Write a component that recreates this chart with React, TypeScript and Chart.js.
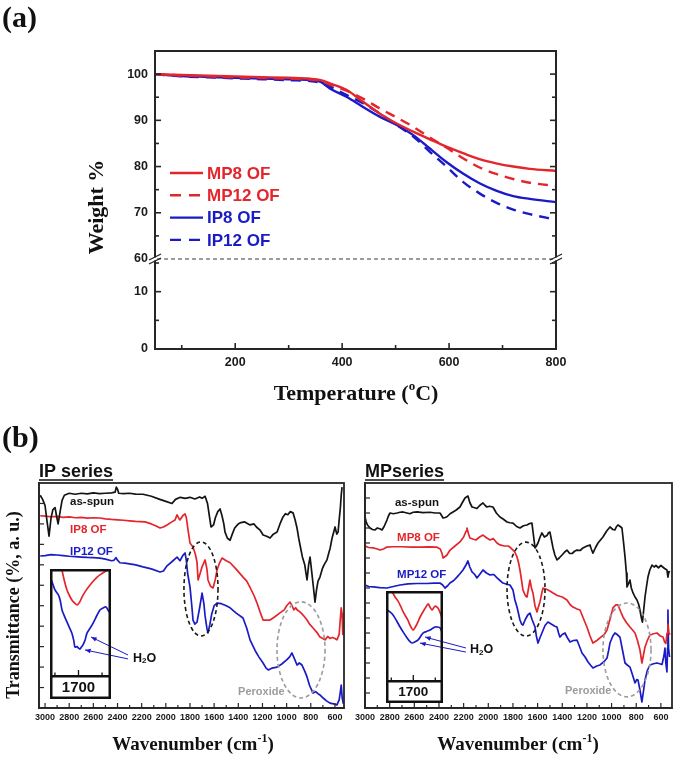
import React, { useEffect, useRef } from "react";
import { Chart, registerables } from "chart.js";

Chart.register(...registerables);

const RED = "#e3262c";
const BLUE = "#1b1bc6";
const BLACK = "#141414";
const GRAY = "#9c9c9c";
const AXIS = "#262626";
const SANS = "'Liberation Sans', Arial, Helvetica, sans-serif";
const SERIF = "'Liberation Serif', 'Times New Roman', Times, serif";

// ---------- (a) TGA ----------
const tgaTemp = [50, 100, 150, 200, 250, 300, 340, 360, 377, 408, 439, 470, 502, 533, 564, 595, 626, 657, 688, 720, 751, 800];
const tgaMP8 = [100, 99.8, 99.65, 99.5, 99.35, 99.2, 99.0, 98.7, 98.0, 96.6, 94.0, 91.5, 89.3, 87.55, 85.9, 84.3, 82.9, 81.6, 80.7, 80.0, 79.5, 79.05];
const tgaMP12 = [100, 99.7, 99.5, 99.3, 99.15, 99.0, 98.8, 98.5, 97.7, 96.4, 94.7, 92.6, 90.6, 88.6, 86.3, 84.1, 81.8, 79.8, 78.4, 77.3, 76.5, 75.8];
const tgaIP8 = [100, 99.6, 99.4, 99.2, 99.05, 98.9, 98.7, 98.3, 96.9, 95.1, 92.9, 90.8, 89.0, 86.8, 83.9, 81.0, 78.5, 76.4, 74.8, 73.6, 73.0, 72.3];
const tgaIP12 = [100, 99.5, 99.3, 99.1, 98.9, 98.7, 98.5, 98.1, 97.3, 95.5, 93.7, 91.5, 89.0, 86.5, 83.2, 80.0, 76.7, 74.2, 72.2, 70.7, 69.7, 68.5];
const tgaXTicks = [200, 400, 600, 800];
const tgaXMinor = [100, 300, 500, 700];
const tgaYTopTicks = [60, 70, 80, 90, 100];
const tgaYTopMinor = [65, 75, 85, 95];
const tgaYBotTicks = [0, 10];
const tgaYBotMinor = [5, 15];

// ---------- (b) FTIR, IP series ----------
type Pair = [number, number];
const ipAsSpun: Pair[] = [[3040,10.4],[3020,10.2],[3000,9.9],[2985,9.2],[2967,8.4],[2950,9.3],[2935,9.7],[2917,9.8],[2905,9.4],[2892,9.0],[2875,9.6],[2859,10.15],[2840,10.4],[2800,10.5],[2750,10.45],[2700,10.5],[2650,10.47],[2600,10.52],[2550,10.48],[2500,10.5],[2450,10.52],[2420,10.55],[2410,10.8],[2400,10.7],[2390,10.5],[2350,10.48],[2300,10.5],[2250,10.46],[2189,10.45],[2120,10.35],[2050,10.2],[2000,10.1],[1949,10.0],[1920,10.2],[1880,10.3],[1840,10.25],[1800,10.3],[1760,10.22],[1720,10.32],[1700,10.25],[1675,10.35],[1655,10.0],[1640,9.4],[1626,8.85],[1605,8.95],[1590,9.3],[1570,9.6],[1551,9.73],[1535,9.4],[1520,9.0],[1510,8.6],[1490,8.3],[1468,8.2],[1450,8.5],[1430,8.8],[1400,9.0],[1386,9.05],[1350,9.1],[1303,8.95],[1270,9.0],[1250,8.85],[1220,8.7],[1195,8.46],[1165,8.4],[1137,8.31],[1110,8.5],[1079,8.6],[1055,9.0],[1030,9.34],[1010,9.5],[990,9.45],[970,9.6],[947,9.54],[930,9.2],[914,8.8],[900,8.3],[889,7.97],[870,7.4],[850,7.0],[840,6.6],[831,6.26],[818,7.0],[806,7.38],[795,6.8],[780,6.0],[765,5.18],[752,5.8],[740,6.2],[724,6.4],[705,6.8],[690,7.0],[666,7.24],[650,7.6],[640,7.8],[624,8.3],[610,8.6],[599,8.85],[585,8.5],[574,8.6],[565,9.2],[555,9.8],[548,10.4],[541,10.8]];
const ipIP8: Pair[] = [[3040,9.4],[3000,9.38],[2950,9.35],[2900,9.37],[2850,9.32],[2800,9.34],[2750,9.3],[2700,9.32],[2650,9.28],[2600,9.3],[2545,9.29],[2500,9.25],[2450,9.22],[2400,9.2],[2350,9.18],[2300,9.15],[2250,9.12],[2172,9.1],[2120,9.0],[2080,8.9],[2048,8.8],[2020,8.85],[1990,8.95],[1950,9.1],[1924,9.19],[1907,9.44],[1890,9.25],[1882,9.2],[1860,9.4],[1841,9.49],[1830,9.3],[1816,8.7],[1800,8.07],[1775,7.87],[1755,7.5],[1742,7.14],[1733,6.26],[1715,6.6],[1700,6.9],[1675,7.24],[1660,6.8],[1651,6.26],[1630,5.95],[1609,5.87],[1590,6.3],[1576,6.75],[1555,7.1],[1535,7.33],[1500,7.2],[1468,7.1],[1420,6.8],[1361,6.4],[1330,6.2],[1303,5.9],[1270,5.5],[1245,5.13],[1220,4.7],[1195,4.3],[1165,4.3],[1137,4.3],[1100,4.45],[1055,4.65],[1020,4.8],[1000,5.0],[972,5.18],[955,5.0],[940,4.8],[925,4.9],[914,4.8],[890,4.7],[873,4.6],[850,4.45],[831,4.3],[810,4.1],[781,3.91],[750,3.7],[724,3.47],[700,3.4],[682,3.33],[660,3.5],[641,3.4],[620,3.45],[600,3.4],[583,3.33],[565,3.6],[555,4.4],[548,4.9],[541,4.6],[535,3.6]];
const ipIP12: Pair[] = [[3040,7.43],[3000,7.45],[2950,7.5],[2900,7.48],[2850,7.45],[2800,7.42],[2750,7.4],[2700,7.38],[2650,7.36],[2600,7.35],[2545,7.33],[2500,7.28],[2450,7.2],[2430,7.22],[2412,7.35],[2404,7.25],[2380,7.1],[2340,7.08],[2300,7.05],[2250,7.0],[2189,6.9],[2120,6.8],[2048,6.65],[2020,6.7],[1990,6.95],[1950,7.15],[1907,7.38],[1890,7.25],[1882,7.2],[1860,7.45],[1841,7.58],[1830,7.2],[1820,6.6],[1800,5.92],[1785,5.0],[1775,4.3],[1760,4.1],[1742,4.2],[1720,4.9],[1700,5.62],[1685,5.1],[1675,4.5],[1660,3.9],[1651,3.67],[1635,4.1],[1620,4.6],[1600,5.0],[1576,5.13],[1540,5.1],[1500,5.0],[1468,4.9],[1420,4.65],[1361,4.4],[1330,3.9],[1303,3.33],[1260,2.8],[1230,2.5],[1195,2.2],[1170,1.95],[1150,1.86],[1120,1.95],[1079,2.0],[1040,2.15],[1000,2.35],[975,2.5],[956,2.69],[935,2.4],[914,2.1],[895,2.2],[873,2.1],[850,1.8],[831,1.52],[810,1.1],[781,0.73],[760,0.8],[740,0.7],[724,0.64],[700,0.5],[670,0.35],[641,0.24],[610,0.2],[583,0.15],[565,0.4],[555,0.8],[548,1.12],[540,0.5],[530,0.2]];

// ---------- (b) FTIR, MP series ----------
const mpAsSpun: Pair[] = [[3000,12.73],[2990,12.4],[2980,12.2],[2959,12.0],[2940,11.9],[2919,11.87],[2900,12.0],[2880,11.95],[2862,11.87],[2845,12.1],[2822,12.53],[2810,12.8],[2797,13.0],[2770,12.95],[2740,13.0],[2715,13.05],[2692,13.07],[2660,13.0],[2635,12.95],[2610,13.05],[2578,13.07],[2530,13.02],[2473,13.05],[2430,13.0],[2392,13.0],[2380,12.85],[2367,12.67],[2350,12.7],[2335,12.75],[2310,12.95],[2286,13.07],[2260,13.2],[2230,13.4],[2210,13.7],[2189,14.0],[2165,14.13],[2150,13.7],[2132,13.4],[2110,13.35],[2092,13.3],[2070,13.5],[2043,13.67],[2025,13.5],[2011,13.4],[1990,13.45],[1962,13.4],[1935,13.0],[1905,12.73],[1880,12.6],[1848,12.4],[1825,12.35],[1800,12.33],[1770,12.1],[1743,12.0],[1715,12.15],[1686,12.2],[1665,12.3],[1646,12.33],[1635,11.6],[1621,10.67],[1610,10.8],[1597,11.0],[1580,11.4],[1565,11.67],[1545,11.4],[1524,11.5],[1510,11.7],[1500,11.73],[1490,11.3],[1475,10.67],[1460,10.2],[1443,9.87],[1425,10.0],[1402,10.2],[1380,10.4],[1362,10.53],[1340,10.3],[1320,10.3],[1300,10.45],[1281,10.53],[1255,10.5],[1232,10.67],[1200,10.8],[1175,10.87],[1165,10.6],[1151,10.33],[1130,10.7],[1110,11.0],[1090,11.2],[1070,11.4],[1040,11.8],[1013,12.07],[990,11.9],[973,11.87],[960,12.1],[948,12.2],[930,12.1],[916,12.0],[905,11.2],[891,10.07],[880,9.0],[875,8.07],[862,8.3],[851,8.53],[840,8.0],[826,7.67],[810,7.4],[794,7.2],[780,6.9],[770,6.53],[758,6.0],[750,5.73],[740,6.5],[729,7.4],[715,8.2],[705,8.73],[690,9.2],[672,9.53],[655,9.4],[640,9.5],[620,9.35],[600,9.5],[585,9.4],[570,9.3],[551,9.2],[543,8.73],[535,9.1],[526,9.07]];
const mpMP8: Pair[] = [[3000,10.8],[2970,10.7],[2935,10.67],[2900,10.6],[2878,10.53],[2850,10.6],[2822,10.73],[2780,10.75],[2700,10.75],[2620,10.72],[2550,10.73],[2480,10.74],[2420,10.73],[2390,10.6],[2375,10.3],[2367,10.0],[2350,10.1],[2335,10.2],[2310,10.53],[2270,10.8],[2230,11.07],[2200,11.4],[2180,11.8],[2173,12.0],[2160,11.6],[2149,11.33],[2120,11.25],[2100,11.2],[2070,11.4],[2043,11.53],[2015,11.35],[1986,11.2],[1960,11.3],[1930,11.0],[1905,10.87],[1870,10.8],[1840,10.8],[1824,10.73],[1800,10.53],[1785,10.4],[1767,10.07],[1755,9.7],[1743,9.2],[1730,8.5],[1719,7.87],[1700,7.5],[1686,7.4],[1662,8.53],[1650,8.0],[1638,7.67],[1621,6.8],[1605,6.4],[1595,6.7],[1581,7.07],[1565,7.7],[1556,8.0],[1540,7.95],[1524,7.9],[1500,7.8],[1475,7.67],[1440,7.5],[1400,7.4],[1362,7.2],[1337,6.9],[1313,6.73],[1280,6.6],[1256,6.53],[1230,6.0],[1200,5.4],[1175,4.8],[1151,4.33],[1120,4.5],[1094,4.67],[1060,4.9],[1037,5.2],[1010,6.0],[989,6.67],[965,6.87],[948,6.87],[930,6.5],[908,6.07],[880,5.7],[851,5.4],[830,5.2],[810,5.0],[790,4.5],[770,3.87],[754,3.0],[740,3.6],[729,4.07],[710,4.5],[689,4.87],[660,4.95],[632,5.0],[605,4.8],[583,4.73],[570,4.4],[560,4.3],[550,5.0],[543,5.6],[535,5.0],[525,4.9]];
const mpMP12: Pair[] = [[3000,8.2],[2970,8.1],[2935,8.07],[2880,8.02],[2822,8.0],[2770,8.1],[2716,8.2],[2650,8.28],[2580,8.3],[2500,8.3],[2440,8.32],[2392,8.33],[2370,8.2],[2351,8.0],[2330,8.15],[2311,8.33],[2280,8.5],[2254,8.73],[2230,8.95],[2205,9.2],[2180,9.55],[2165,9.8],[2150,9.4],[2132,9.07],[2110,8.9],[2092,8.67],[2070,8.9],[2043,9.2],[2015,9.0],[1986,8.87],[1955,8.9],[1929,8.67],[1905,8.5],[1881,8.33],[1850,8.25],[1824,8.2],[1800,7.87],[1784,7.2],[1767,6.73],[1755,6.3],[1743,5.87],[1730,5.6],[1719,5.53],[1700,5.9],[1680,6.2],[1662,6.33],[1645,5.9],[1621,5.4],[1610,4.8],[1597,4.33],[1580,4.7],[1565,5.0],[1540,5.5],[1516,5.73],[1490,5.6],[1460,5.45],[1443,5.4],[1430,5.0],[1419,4.73],[1400,4.9],[1378,5.0],[1360,4.7],[1337,4.4],[1310,4.5],[1281,4.53],[1260,4.1],[1240,3.67],[1215,3.4],[1191,3.07],[1170,2.85],[1151,2.67],[1120,2.8],[1094,2.87],[1060,3.1],[1037,3.33],[1025,3.8],[1013,4.33],[990,4.8],[973,5.0],[955,4.9],[932,4.73],[910,3.8],[891,3.0],[870,2.85],[851,2.73],[830,2.2],[810,1.67],[795,1.9],[786,1.87],[770,1.2],[754,0.4],[740,1.2],[729,1.87],[710,2.5],[689,2.87],[660,2.95],[632,3.0],[610,2.95],[591,2.9],[575,3.5],[567,4.0],[560,3.0],[551,2.4],[546,4.0],[543,6.53],[538,4.0],[530,3.4]];
const ftirXTicks = [3000, 2800, 2600, 2400, 2200, 2000, 1800, 1600, 1400, 1200, 1000, 800, 600];

// ---------- insets (around 1700 cm-1) ----------
const ipInsetIP8: Pair[] = [[1780,11.0],[1770,9.9],[1760,8.9],[1749,8.04],[1738,7.5],[1728,7.1],[1716,6.8],[1706,6.64],[1695,6.9],[1685,7.38],[1668,8.0],[1651,8.5],[1636,8.9],[1621,9.25],[1606,9.5],[1592,9.7],[1578,9.85],[1566,10.0],[1560,10.1]];
const ipInsetIP12: Pair[] = [[1822,9.3],[1812,8.79],[1800,8.04],[1786,7.6],[1778,7.1],[1770,6.17],[1760,5.6],[1749,5.05],[1738,4.5],[1728,4.0],[1720,3.3],[1715,2.7],[1706,2.75],[1700,2.6],[1694,2.52],[1688,2.7],[1681,2.9],[1672,3.36],[1664,4.0],[1650,4.5],[1638,4.95],[1621,5.7],[1609,6.17],[1596,6.36],[1583,6.45],[1575,6.17],[1566,5.9],[1560,5.6]];
const mpInsetMP8: Pair[] = [[1808,11.0],[1797,10.0],[1783,9.33],[1770,8.9],[1760,8.44],[1748,7.8],[1738,7.33],[1725,6.8],[1715,6.22],[1701,5.67],[1688,6.11],[1678,6.6],[1669,7.11],[1651,7.89],[1633,8.56],[1624,8.2],[1615,7.89],[1608,8.1],[1601,8.33],[1588,8.11],[1578,7.6],[1569,7.0],[1563,6.8]];
const mpInsetMP12: Pair[] = [[1826,7.95],[1819,7.89],[1806,7.67],[1792,7.33],[1776,6.7],[1760,6.0],[1745,5.4],[1728,4.78],[1716,4.4],[1706,4.22],[1692,4.35],[1678,4.56],[1667,4.95],[1656,5.33],[1640,5.5],[1624,5.67],[1612,5.85],[1601,6.0],[1590,6.0],[1578,5.89],[1569,5.44],[1563,5.3]];
const insetTicks = [1800, 1700, 1600];

// ---------- helpers ----------
const toPts = (arr: Pair[]) => arr.map(([x, y]) => ({ x, y }));
const zipPts = (xs: number[], ys: number[]) => xs.map((x, i) => ({ x, y: ys[i] }));

function line(ctx: CanvasRenderingContext2D, x1: number, y1: number, x2: number, y2: number) {
  ctx.beginPath();
  ctx.moveTo(x1, y1);
  ctx.lineTo(x2, y2);
  ctx.stroke();
}

function arrow(ctx: CanvasRenderingContext2D, x1: number, y1: number, x2: number, y2: number) {
  line(ctx, x1, y1, x2, y2);
  const a = Math.atan2(y2 - y1, x2 - x1);
  const s = 6;
  ctx.beginPath();
  ctx.moveTo(x2, y2);
  ctx.lineTo(x2 - s * Math.cos(a - 0.38), y2 - s * Math.sin(a - 0.38));
  ctx.lineTo(x2 - s * Math.cos(a + 0.38), y2 - s * Math.sin(a + 0.38));
  ctx.closePath();
  ctx.fill();
}

function richText(ctx: CanvasRenderingContext2D, parts: [string, string, number][], x: number, y: number, align: string) {
  let total = 0;
  parts.forEach((p) => {
    ctx.font = p[1];
    total += ctx.measureText(p[0]).width;
  });
  let cx = align === "center" ? x - total / 2 : align === "right" ? x - total : x;
  ctx.textAlign = "left";
  parts.forEach((p) => {
    ctx.font = p[1];
    ctx.fillText(p[0], cx, y + p[2]);
    cx += ctx.measureText(p[0]).width;
  });
}

const decor = (fn: (chart: any, ctx: CanvasRenderingContext2D) => void) => ({
  id: "decor",
  afterDraw(chart: any) {
    const ctx = chart.ctx as CanvasRenderingContext2D;
    ctx.save();
    fn(chart, ctx);
    ctx.restore();
  },
});

const noPlugins = { legend: { display: false }, tooltip: { enabled: false } };

// ---------- TGA chart ----------
function tgaConfig(): any {
  const series = [
    { label: "MP8 OF", data: tgaMP8, color: RED, dash: [] as number[] },
    { label: "MP12 OF", data: tgaMP12, color: RED, dash: [10, 7] },
    { label: "IP8 OF", data: tgaIP8, color: BLUE, dash: [] as number[] },
    { label: "IP12 OF", data: tgaIP12, color: BLUE, dash: [10, 7] },
  ];
  const tickFont = { family: SANS, size: 12.5, weight: "bold" };
  const yCommon = {
    type: "linear",
    axis: "y",
    position: "left",
    stack: "tga",
    grid: { display: false, drawTicks: false },
    border: { display: true, color: AXIS, width: 2 },
    ticks: { font: tickFont, color: "#1a1a1a", padding: 7, autoSkip: false, callback: (v: any) => String(v) },
    afterFit: (s: any) => {
      s.width = 155;
    },
  };
  return {
    type: "line",
    data: {
      datasets: series.map((s) => ({
        label: s.label,
        data: zipPts(tgaTemp, s.data),
        borderColor: s.color,
        backgroundColor: s.color,
        borderWidth: 2.4,
        borderDash: s.dash,
        pointRadius: 0,
        cubicInterpolationMode: "monotone",
        fill: false,
        yAxisID: "yTop",
      })),
    },
    options: {
      animation: false,
      responsive: false,
      devicePixelRatio: 1,
      layout: { padding: { top: 51, right: 119, left: 0, bottom: 0 } },
      plugins: noPlugins,
      scales: {
        x: {
          type: "linear",
          min: 50,
          max: 800,
          afterBuildTicks: (s: any) => {
            s.ticks = tgaXTicks.map((v) => ({ value: v }));
          },
          ticks: { font: tickFont, color: "#1a1a1a", padding: 6, maxRotation: 0, autoSkip: false, callback: (v: any) => String(v) },
          grid: { display: false, drawTicks: false },
          border: { display: true, color: AXIS, width: 2 },
          afterFit: (s: any) => {
            s.height = 71;
          },
        },
        yBot: {
          ...yCommon,
          stackWeight: 90,
          min: 0,
          max: 15.7,
          afterBuildTicks: (s: any) => {
            s.ticks = tgaYBotTicks.map((v) => ({ value: v }));
          },
        },
        yTop: {
          ...yCommon,
          stackWeight: 208,
          min: 60,
          max: 105,
          afterBuildTicks: (s: any) => {
            s.ticks = tgaYTopTicks.map((v) => ({ value: v }));
          },
        },
      },
    },
    plugins: [
      decor((chart, ctx) => {
        const ca = chart.chartArea;
        const sx = chart.scales.x;
        const yT = chart.scales.yTop;
        const yB = chart.scales.yBot;
        ctx.strokeStyle = AXIS;
        ctx.lineWidth = 2;
        ctx.strokeRect(ca.left, ca.top, ca.right - ca.left, ca.bottom - ca.top);
        ctx.lineWidth = 1.6;
        const xt = (vals: number[], L: number) =>
          vals.forEach((v) => {
            const px = sx.getPixelForValue(v);
            line(ctx, px, ca.bottom, px, ca.bottom - L);
          });
        xt(tgaXTicks.filter((v) => v < 800), 6);
        xt(tgaXMinor, 4);
        const yt = (sc: any, vals: number[], L: number) =>
          vals.forEach((v) => {
            const py = sc.getPixelForValue(v);
            line(ctx, ca.left, py, ca.left + L, py);
            line(ctx, ca.right, py, ca.right - L, py);
          });
        yt(yT, tgaYTopTicks.filter((v) => v > 60), 6);
        yt(yT, tgaYTopMinor, 4);
        yt(yB, tgaYBotTicks.filter((v) => v > 0), 6);
        yt(yB, tgaYBotMinor, 4);
        // break line
        const yb = yT.bottom;
        ctx.setLineDash([4, 3]);
        ctx.lineWidth = 1.2;
        ctx.strokeStyle = "#3a3a3a";
        line(ctx, ca.left + 2, yb, ca.right - 2, yb);
        ctx.setLineDash([]);
        [ca.left, ca.right].forEach((ax) => {
          ctx.fillStyle = "#ffffff";
          ctx.fillRect(ax - 2, yb - 1.5, 4, 3);
          ctx.strokeStyle = AXIS;
          ctx.lineWidth = 1.3;
          line(ctx, ax - 6, yb + 1, ax + 6, yb - 5);
          line(ctx, ax - 6, yb + 5, ax + 6, yb - 1);
        });
        // legend
        chart.data.datasets.forEach((ds: any, i: number) => {
          const y = ca.top + 122 + i * 22.3;
          ctx.strokeStyle = ds.borderColor;
          ctx.lineWidth = 2.4;
          ctx.setLineDash(ds.borderDash && ds.borderDash.length ? [11, 8] : []);
          line(ctx, ca.left + 15, y, ca.left + 48, y);
          ctx.setLineDash([]);
          ctx.fillStyle = ds.borderColor;
          ctx.font = `bold 17px ${SANS}`;
          ctx.textAlign = "left";
          ctx.textBaseline = "middle";
          ctx.fillText(ds.label, ca.left + 52, y + 1);
        });
        // titles
        ctx.fillStyle = "#111111";
        ctx.textBaseline = "alphabetic";
        ctx.font = `bold 30px ${SERIF}`;
        ctx.textAlign = "left";
        ctx.fillText("(a)", 2, 27);
        ctx.save();
        ctx.translate(103, 207);
        ctx.rotate(-Math.PI / 2);
        ctx.font = `bold 22px ${SERIF}`;
        ctx.textAlign = "center";
        ctx.fillText("Weight %", 0, 0);
        ctx.restore();
        richText(
          ctx,
          [
            ["Temperature (", `bold 22px ${SERIF}`, 0],
            ["o", `bold 13px ${SERIF}`, -10],
            ["C)", `bold 22px ${SERIF}`, 0],
          ],
          356,
          400,
          "center"
        );
      }),
    ],
  };
}

// ---------- FTIR chart ----------
function ftirConfig(p: any): any {
  const tickFont = { family: SANS, size: 9, weight: "bold" };
  return {
    type: "line",
    data: {
      datasets: p.series.map((s: any) => ({
        label: s.label,
        data: toPts(s.data),
        borderColor: s.color,
        borderWidth: 1.7,
        pointRadius: 0,
        tension: 0,
        fill: false,
        borderJoinStyle: "round",
      })),
    },
    options: {
      animation: false,
      responsive: false,
      devicePixelRatio: 1,
      layout: { padding: { top: 63, right: p.padRight, left: 0, bottom: 0 } },
      plugins: noPlugins,
      scales: {
        x: {
          type: "linear",
          reverse: true,
          min: p.xMin,
          max: p.xMax,
          afterBuildTicks: (s: any) => {
            s.ticks = ftirXTicks.map((v) => ({ value: v }));
          },
          ticks: { font: tickFont, color: "#1a1a1a", padding: 4, maxRotation: 0, autoSkip: false, callback: (v: any) => String(v) },
          grid: { display: false, drawTicks: false },
          border: { display: true, color: AXIS, width: 1.8 },
          afterFit: (s: any) => {
            s.height = 50;
          },
        },
        y: {
          type: "linear",
          min: 0,
          max: p.yMax,
          ticks: { display: false },
          grid: { display: false, drawTicks: false },
          border: { display: true, color: AXIS, width: 1.8 },
          afterFit: (s: any) => {
            s.width = p.leftW;
          },
        },
      },
    },
    plugins: [
      decor((chart, ctx) => {
        const ca = chart.chartArea;
        const sx = chart.scales.x;
        const sy = chart.scales.y;
        const X = (w: number) => sx.getPixelForValue(w);
        const Y = (u: number) => sy.getPixelForValue(u);
        ctx.strokeStyle = AXIS;
        ctx.lineWidth = 1.8;
        ctx.strokeRect(ca.left, ca.top, ca.right - ca.left, ca.bottom - ca.top);
        ctx.lineWidth = 1.2;
        for (let u = 1; u < p.yMax; u++) line(ctx, ca.left, Y(u), ca.left + 5, Y(u));
        for (let w = 600; w <= 3000; w += 100) {
          const L = w % 200 === 0 ? 5 : 3;
          line(ctx, X(w), ca.bottom, X(w), ca.bottom - L);
        }
        // ellipses
        ctx.setLineDash([4, 3]);
        ctx.lineWidth = 1.6;
        p.ellipses.forEach((e: any) => {
          ctx.strokeStyle = e.color;
          ctx.beginPath();
          ctx.ellipse(X(e.w), Y(e.u), Math.abs(X(e.w + e.rw) - X(e.w)), Math.abs(Y(e.u + e.ru) - Y(e.u)), 0, 0, Math.PI * 2);
          ctx.stroke();
        });
        ctx.setLineDash([]);
        // series labels
        ctx.textBaseline = "middle";
        ctx.textAlign = "left";
        p.labels.forEach((l: any) => {
          ctx.fillStyle = l.color;
          ctx.font = `bold ${l.size}px ${SANS}`;
          ctx.fillText(l.text, X(l.w), Y(l.u));
        });
        // H2O arrows
        ctx.strokeStyle = BLUE;
        ctx.fillStyle = BLUE;
        ctx.lineWidth = 1;
        p.arrows.forEach((a: number[]) => arrow(ctx, X(a[0]), Y(a[1]), X(a[2]), Y(a[3])));
        ctx.fillStyle = "#111111";
        richText(
          ctx,
          [
            ["H", `bold 12.5px ${SANS}`, 0],
            ["2", `bold 8px ${SANS}`, 3],
            ["O", `bold 12.5px ${SANS}`, 0],
          ],
          X(p.h2o[0]),
          Y(p.h2o[1]),
          "left"
        );
        // title
        ctx.textBaseline = "alphabetic";
        ctx.fillStyle = "#111111";
        ctx.font = `bold 18px ${SANS}`;
        ctx.textAlign = "left";
        ctx.fillText(p.title, ca.left, 57);
        const tw = ctx.measureText(p.title).width;
        ctx.strokeStyle = "#111111";
        ctx.lineWidth = 1.5;
        line(ctx, ca.left, 60, ca.left + tw, 60);
        // x title
        richText(
          ctx,
          [
            ["Wavenumber (cm", `bold 19px ${SERIF}`, 0],
            ["-1", `bold 12px ${SERIF}`, -8],
            [")", `bold 19px ${SERIF}`, 0],
          ],
          p.xTitleX,
          330,
          "center"
        );
        if (p.extra) p.extra(chart, ctx);
      }),
    ],
  };
}

function insetConfig(p: any): any {
  return {
    type: "line",
    data: {
      datasets: p.series.map((s: any) => ({
        data: toPts(s.data),
        borderColor: s.color,
        borderWidth: 1.7,
        pointRadius: 0,
        tension: 0.25,
        fill: false,
      })),
    },
    options: {
      animation: false,
      responsive: false,
      devicePixelRatio: 1,
      layout: { padding: 0 },
      plugins: noPlugins,
      scales: {
        x: {
          type: "linear",
          reverse: true,
          min: p.xMin,
          max: p.xMax,
          afterBuildTicks: (s: any) => {
            s.ticks = insetTicks.map((v) => ({ value: v }));
          },
          ticks: {
            font: { family: SANS, size: p.fontSize, weight: "bold" },
            color: "#111111",
            padding: p.labelPad,
            maxRotation: 0,
            autoSkip: false,
            callback: (v: any) => (v === 1700 ? "1700" : ""),
          },
          grid: { display: false, drawTicks: false },
          border: { display: true, color: "#111111", width: 2.5 },
          afterFit: (s: any) => {
            s.height = p.axisH;
          },
        },
        y: { display: false, min: 0, max: 10 },
      },
    },
    plugins: [
      decor((chart, ctx) => {
        const ca = chart.chartArea;
        const sx = chart.scales.x;
        ctx.strokeStyle = "#111111";
        ctx.lineWidth = 2.5;
        ctx.strokeRect(1.25, 1.25, chart.width - 2.5, chart.height - 2.5);
        ctx.lineWidth = 1.3;
        insetTicks.forEach((v) => {
          const px = sx.getPixelForValue(v);
          line(ctx, px, ca.bottom, px, ca.bottom - (v === 1700 ? 6 : 3.5));
        });
      }),
    ],
  };
}

function ChartBox(props: { left: number; top: number; width: number; height: number; make: () => any }) {
  const ref = useRef<HTMLCanvasElement>(null);
  useEffect(() => {
    const chart = new Chart(ref.current as HTMLCanvasElement, props.make());
    return () => chart.destroy();
  }, []);
  return (
    <canvas
      ref={ref}
      width={props.width}
      height={props.height}
      style={{ position: "absolute", left: props.left, top: props.top, width: props.width, height: props.height }}
    />
  );
}

const ipConfig = () =>
  ftirConfig({
    series: [
      { label: "as-spun", data: ipAsSpun, color: BLACK },
      { label: "IP8 OF", data: ipIP8, color: RED },
      { label: "IP12 OF", data: ipIP12, color: BLUE },
    ],
    xMin: 525,
    xMax: 3050,
    yMax: 11,
    leftW: 39,
    padRight: 6,
    title: "IP series",
    xTitleX: 193,
    labels: [
      { text: "as-spun", w: 2793, u: 10.07, color: BLACK, size: 11.5 },
      { text: "IP8 OF", w: 2793, u: 8.7, color: RED, size: 11.5 },
      { text: "IP12 OF", w: 2793, u: 7.63, color: BLUE, size: 11.5 },
      { text: "Peroxide", w: 1402, u: 0.78, color: GRAY, size: 11 },
    ],
    ellipses: [
      { w: 1709, u: 5.82, rw: 141, ru: 2.3, color: "#1a1a1a" },
      { w: 881, u: 2.84, rw: 199, ru: 2.35, color: GRAY },
    ],
    arrows: [
      [2313, 2.59, 2619, 3.47],
      [2313, 2.4, 2669, 2.84],
    ],
    h2o: [2272, 2.44],
    extra: (chart: any, ctx: CanvasRenderingContext2D) => {
      ctx.fillStyle = "#111111";
      ctx.font = `bold 30px ${SERIF}`;
      ctx.textAlign = "left";
      ctx.textBaseline = "alphabetic";
      ctx.fillText("(b)", 2, 27);
      ctx.save();
      ctx.translate(19, 185);
      ctx.rotate(-Math.PI / 2);
      ctx.font = `bold 18px ${SERIF}`;
      ctx.textAlign = "center";
      ctx.fillText("Transmittance (%, a. u.)", 0, 0);
      ctx.restore();
    },
  });

const mpConfig = () =>
  ftirConfig({
    series: [
      { label: "as-spun", data: mpAsSpun, color: BLACK },
      { label: "MP8 OF", data: mpMP8, color: RED },
      { label: "MP12 OF", data: mpMP12, color: BLUE },
    ],
    xMin: 510,
    xMax: 3000,
    yMax: 15,
    leftW: 15,
    padRight: 3,
    title: "MPseries",
    xTitleX: 168,
    labels: [
      { text: "as-spun", w: 2757, u: 13.67, color: BLACK, size: 11.5 },
      { text: "MP8 OF", w: 2740, u: 11.33, color: RED, size: 11.5 },
      { text: "MP12 OF", w: 2740, u: 8.87, color: BLUE, size: 11.5 },
      { text: "Peroxide", w: 1378, u: 1.13, color: GRAY, size: 11 },
    ],
    ellipses: [
      { w: 1694, u: 7.93, rw: 154, ru: 3.13, color: "#1a1a1a" },
      { w: 875, u: 3.87, rw: 195, ru: 3.13, color: GRAY },
    ],
    arrows: [
      [2181, 4.0, 2513, 4.73],
      [2181, 3.73, 2554, 4.33],
    ],
    h2o: [2148, 3.87],
  });

const ipInset = () =>
  insetConfig({
    series: [
      { data: ipInsetIP8, color: RED },
      { data: ipInsetIP12, color: BLUE },
    ],
    xMin: 1562,
    xMax: 1821,
    axisH: 23,
    fontSize: 15,
    labelPad: 3,
  });

const mpInset = () =>
  insetConfig({
    series: [
      { data: mpInsetMP8, color: RED },
      { data: mpInsetMP12, color: BLUE },
    ],
    xMin: 1565,
    xMax: 1824,
    axisH: 22,
    fontSize: 13.5,
    labelPad: 3,
  });

export default function App() {
  return (
    <div style={{ position: "absolute", left: 0, top: 0, width: 675, height: 758, background: "#ffffff", overflow: "hidden" }}>
      <ChartBox left={0} top={0} width={675} height={420} make={tgaConfig} />
      <ChartBox left={0} top={420} width={350} height={338} make={ipConfig} />
      <ChartBox left={350} top={420} width={325} height={338} make={mpConfig} />
      <ChartBox left={50} top={569} width={61} height={130} make={ipInset} />
      <ChartBox left={386} top={591} width={57} height={112} make={mpInset} />
    </div>
  );
}
